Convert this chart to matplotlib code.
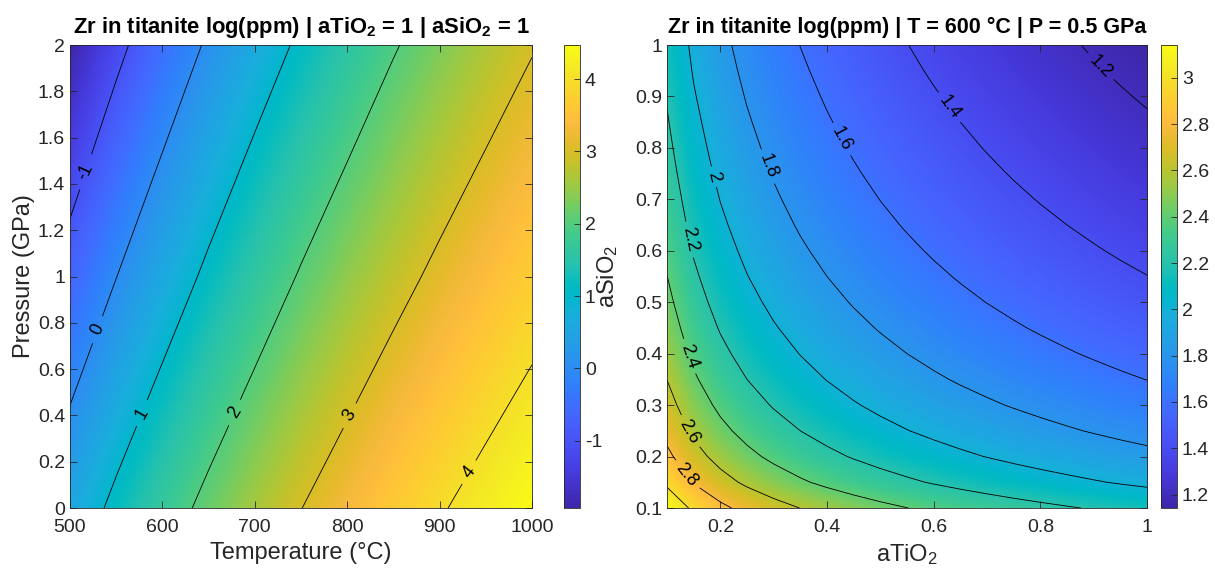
import numpy as np
import matplotlib
matplotlib.use('Agg')
import matplotlib.pyplot as plt
from matplotlib.colors import LinearSegmentedColormap

# left map: Zr in titanite log(ppm), aTiO2 = 1, aSiO2 = 1
temp_c = [500, 550, 600, 650, 700, 750, 800, 850, 900, 950, 1000]
pressure_gpa = [0, 1, 2]
zr_p0 = [0.55, 1.16, 1.69, 2.17, 2.60, 2.99, 3.34, 3.66, 3.95, 4.22, 4.47]
zr_p1 = [-0.69, -0.01, 0.59, 1.13, 1.61, 2.05, 2.44, 2.80, 3.13, 3.43, 3.71]
zr_p2 = [-1.93, -1.18, -0.51, 0.09, 0.63, 1.11, 1.55, 1.95, 2.31, 2.65, 2.96]

# right map: T = 600 C, P = 0.5 GPa, values along the top edge (aSiO2 = 1)
# and along the right edge (aTiO2 = 1)
activity = [0.10, 0.15, 0.20, 0.25, 0.30, 0.35, 0.40, 0.45, 0.50, 0.55,
            0.60, 0.65, 0.70, 0.75, 0.80, 0.85, 0.90, 0.95, 1.00]
zr_top_edge = [2.142, 1.966, 1.841, 1.744, 1.665, 1.598, 1.540, 1.489, 1.443, 1.402,
               1.364, 1.329, 1.297, 1.267, 1.239, 1.213, 1.188, 1.164, 1.142]
zr_right_edge = [2.142, 1.966, 1.841, 1.744, 1.665, 1.598, 1.540, 1.489, 1.443, 1.402,
                 1.364, 1.329, 1.297, 1.267, 1.239, 1.213, 1.188, 1.164, 1.142]

left_levels = [-1, 0, 1, 2, 3, 4]
right_levels = [1.2, 1.4, 1.6, 1.8, 2.0, 2.2, 2.4, 2.6, 2.8, 3.0]

# matlab parula
parula_rgb = [
    (0.2422, 0.1504, 0.6603), (0.2504, 0.1650, 0.7076), (0.2578, 0.1818, 0.7511),
    (0.2647, 0.1978, 0.7952), (0.2706, 0.2147, 0.8364), (0.2751, 0.2342, 0.8710),
    (0.2783, 0.2559, 0.8991), (0.2803, 0.2782, 0.9221), (0.2813, 0.3006, 0.9414),
    (0.2810, 0.3228, 0.9579), (0.2795, 0.3447, 0.9717), (0.2760, 0.3667, 0.9829),
    (0.2699, 0.3892, 0.9906), (0.2602, 0.4123, 0.9952), (0.2440, 0.4358, 0.9988),
    (0.2206, 0.4603, 0.9973), (0.1963, 0.4847, 0.9892), (0.1834, 0.5074, 0.9798),
    (0.1786, 0.5289, 0.9682), (0.1764, 0.5499, 0.9520), (0.1687, 0.5703, 0.9359),
    (0.1540, 0.5902, 0.9218), (0.1460, 0.6091, 0.9079), (0.1380, 0.6276, 0.8973),
    (0.1248, 0.6459, 0.8883), (0.1113, 0.6635, 0.8763), (0.0952, 0.6798, 0.8598),
    (0.0689, 0.6948, 0.8394), (0.0297, 0.7082, 0.8163), (0.0036, 0.7203, 0.7917),
    (0.0067, 0.7312, 0.7660), (0.0433, 0.7411, 0.7394), (0.0964, 0.7500, 0.7120),
    (0.1408, 0.7584, 0.6842), (0.1717, 0.7670, 0.6554), (0.1938, 0.7758, 0.6251),
    (0.2161, 0.7843, 0.5923), (0.2470, 0.7918, 0.5567), (0.2906, 0.7973, 0.5188),
    (0.3406, 0.8008, 0.4789), (0.3909, 0.8029, 0.4354), (0.4456, 0.8024, 0.3909),
    (0.5044, 0.7993, 0.3480), (0.5616, 0.7942, 0.3045), (0.6174, 0.7876, 0.2612),
    (0.6720, 0.7793, 0.2227), (0.7242, 0.7698, 0.1910), (0.7738, 0.7598, 0.1646),
    (0.8203, 0.7498, 0.1535), (0.8634, 0.7406, 0.1596), (0.9035, 0.7330, 0.1774),
    (0.9393, 0.7288, 0.2100), (0.9728, 0.7298, 0.2394), (0.9956, 0.7434, 0.2371),
    (0.9970, 0.7659, 0.2199), (0.9952, 0.7893, 0.2028), (0.9892, 0.8136, 0.1885),
    (0.9786, 0.8386, 0.1766), (0.9676, 0.8639, 0.1643), (0.9610, 0.8890, 0.1537),
    (0.9597, 0.9135, 0.1423), (0.9628, 0.9373, 0.1265), (0.9691, 0.9606, 0.1064),
    (0.9769, 0.9839, 0.0805)]
parula = LinearSegmentedColormap.from_list('parula', parula_rgb, N=256)

ink = '#262626'
plt.rcParams['font.family'] = ['Liberation Sans', 'DejaVu Sans']
plt.rcParams['mathtext.fontset'] = 'custom'
plt.rcParams['mathtext.rm'] = 'Liberation Sans'
plt.rcParams['mathtext.bf'] = 'Liberation Sans:bold'
plt.rcParams['mathtext.default'] = 'regular'
plt.rcParams['axes.unicode_minus'] = False

fig = plt.figure(figsize=(12.15, 5.83), dpi=100)
axL = fig.add_axes([0.0576, 0.1286, 0.3802, 0.7942])
cbL = fig.add_axes([0.4642, 0.1286, 0.0132, 0.7942])
axR = fig.add_axes([0.5490, 0.1286, 0.3951, 0.7942])
cbR = fig.add_axes([0.9556, 0.1286, 0.0132, 0.7942])

# left
zl = np.array([zr_p0, zr_p1, zr_p2])
dT = (temp_c[1] - temp_c[0]) / 2
dP = (pressure_gpa[1] - pressure_gpa[0]) / 2
mL = axL.imshow(zl, origin='lower', aspect='auto', cmap=parula,
                extent=[temp_c[0] - dT, temp_c[-1] + dT, pressure_gpa[0] - dP, pressure_gpa[-1] + dP],
                interpolation='bilinear', interpolation_stage='data',
                vmin=zl.min(), vmax=zl.max())
cs = axL.contour(temp_c, pressure_gpa, zl, levels=left_levels, colors='k',
                 linewidths=0.6, negative_linestyles='solid')
axL.clabel(cs, left_levels, inline=True, fontsize=13, fmt='%g', colors='k',
           manual=[(518, 1.45), (530, 0.77), (578, 0.41), (679, 0.41), (805, 0.39), (933, 0.15)])
axL.set_xlim(500, 1000)
axL.set_ylim(0, 2)
axL.set_xticks([500, 600, 700, 800, 900, 1000])
axL.set_yticks(np.arange(0, 2.01, 0.2))
axL.set_yticklabels(['0', '0.2', '0.4', '0.6', '0.8', '1', '1.2', '1.4', '1.6', '1.8', '2'])
axL.set_xlabel('Temperature (°C)', fontsize=17, color=ink, labelpad=4)
axL.set_ylabel('Pressure (GPa)', fontsize=17, color=ink, labelpad=2)
axL.set_title(r'Zr in titanite log(ppm) | aTiO$_\mathbf{2}$ = 1 | aSiO$_\mathbf{2}$ = 1',
              fontsize=15.8, fontweight='bold', pad=9)
c1 = fig.colorbar(mL, cax=cbL, ticks=[-1, 0, 1, 2, 3, 4])

# right
zr = np.add.outer(np.array(zr_right_edge), np.array(zr_top_edge)) - zr_top_edge[-1]
da = (activity[1] - activity[0]) / 2
mR = axR.imshow(zr, origin='lower', aspect='auto', cmap=parula,
                extent=[activity[0] - da, activity[-1] + da, activity[0] - da, activity[-1] + da],
                interpolation='bilinear', interpolation_stage='data',
                vmin=zr.min(), vmax=zr.max())
cs2 = axR.contour(activity, activity, zr, levels=right_levels, colors='k', linewidths=0.6)
axR.clabel(cs2, right_levels[:-1], inline=True, fontsize=13, fmt='%g', colors='k',
           manual=[(0.916, 0.961), (0.631, 0.88), (0.424, 0.815), (0.287, 0.763),
                   (0.184, 0.743), (0.139, 0.621), (0.134, 0.392), (0.1375, 0.246),
                   (0.124, 0.154)])
axR.set_xlim(0.1, 1)
axR.set_ylim(0.1, 1)
axR.set_xticks([0.2, 0.4, 0.6, 0.8, 1])
axR.set_xticklabels(['0.2', '0.4', '0.6', '0.8', '1'])
axR.set_yticks(np.arange(0.1, 1.01, 0.1))
axR.set_yticklabels(['0.1', '0.2', '0.3', '0.4', '0.5', '0.6', '0.7', '0.8', '0.9', '1'])
axR.set_xlabel(r'aTiO$_2$', fontsize=17, color=ink, labelpad=4)
axR.set_ylabel(r'aSiO$_2$', fontsize=17, color=ink, labelpad=11)
axR.set_title('Zr in titanite log(ppm) | T = 600 °C | P = 0.5 GPa',
              fontsize=15.5, fontweight='bold', pad=9)
c2 = fig.colorbar(mR, cax=cbR, ticks=right_levels)
c2.set_ticklabels(['1.2', '1.4', '1.6', '1.8', '2', '2.2', '2.4', '2.6', '2.8', '3'])

for ax in (axL, axR):
    ax.tick_params(direction='in', top=True, right=True, length=5, width=0.6,
                   labelsize=14, colors=ink, labelcolor=ink)
    ax.tick_params(axis='x', pad=8)
    for s in ax.spines.values():
        s.set_color(ink)
        s.set_linewidth(0.6)
for cb in (c1, c2):
    cb.ax.tick_params(direction='in', length=4, width=0.6, labelsize=14, colors=ink)
    cb.outline.set_edgecolor(ink)
    cb.outline.set_linewidth(0.6)

fig.savefig('out.png', dpi=100)
